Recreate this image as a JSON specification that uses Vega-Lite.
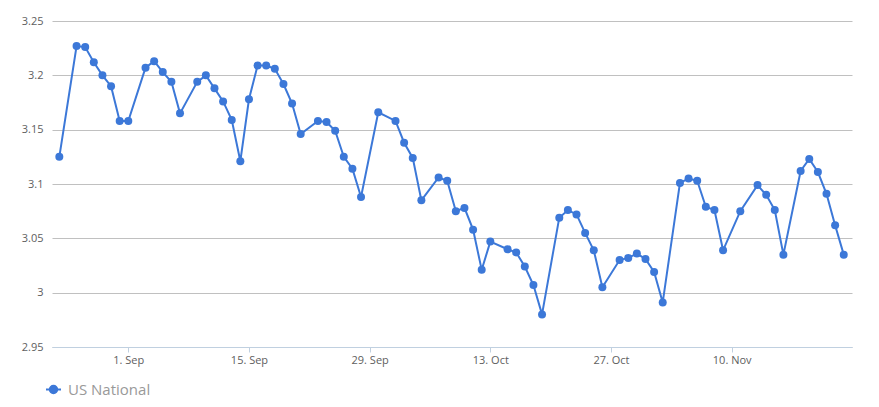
{
  "$schema": "https://vega.github.io/schema/vega-lite/v6.json",
  "width": 800,
  "height": 326,
  "autosize": "none",
  "padding": {"left": 52, "top": 21, "right": 27, "bottom": 60},
  "config": {
    "font": "Open Sans",
    "view": {"stroke": null},
    "axis": {"labelFont": "Open Sans", "labelFontSize": 11, "labelColor": "#606060"}
  },
  "data": {
    "values": [
      {"date": "2014-08-24T00:00:00", "price": 3.125, "series": "US National"},
      {"date": "2014-08-26T00:00:00", "price": 3.227, "series": "US National"},
      {"date": "2014-08-27T00:00:00", "price": 3.226, "series": "US National"},
      {"date": "2014-08-28T00:00:00", "price": 3.212, "series": "US National"},
      {"date": "2014-08-29T00:00:00", "price": 3.200, "series": "US National"},
      {"date": "2014-08-30T00:00:00", "price": 3.190, "series": "US National"},
      {"date": "2014-08-31T00:00:00", "price": 3.158, "series": "US National"},
      {"date": "2014-09-01T00:00:00", "price": 3.158, "series": "US National"},
      {"date": "2014-09-03T00:00:00", "price": 3.207, "series": "US National"},
      {"date": "2014-09-04T00:00:00", "price": 3.213, "series": "US National"},
      {"date": "2014-09-05T00:00:00", "price": 3.203, "series": "US National"},
      {"date": "2014-09-06T00:00:00", "price": 3.194, "series": "US National"},
      {"date": "2014-09-07T00:00:00", "price": 3.165, "series": "US National"},
      {"date": "2014-09-09T00:00:00", "price": 3.194, "series": "US National"},
      {"date": "2014-09-10T00:00:00", "price": 3.200, "series": "US National"},
      {"date": "2014-09-11T00:00:00", "price": 3.188, "series": "US National"},
      {"date": "2014-09-12T00:00:00", "price": 3.176, "series": "US National"},
      {"date": "2014-09-13T00:00:00", "price": 3.159, "series": "US National"},
      {"date": "2014-09-14T00:00:00", "price": 3.121, "series": "US National"},
      {"date": "2014-09-15T00:00:00", "price": 3.178, "series": "US National"},
      {"date": "2014-09-16T00:00:00", "price": 3.209, "series": "US National"},
      {"date": "2014-09-17T00:00:00", "price": 3.209, "series": "US National"},
      {"date": "2014-09-18T00:00:00", "price": 3.206, "series": "US National"},
      {"date": "2014-09-19T00:00:00", "price": 3.192, "series": "US National"},
      {"date": "2014-09-20T00:00:00", "price": 3.174, "series": "US National"},
      {"date": "2014-09-21T00:00:00", "price": 3.146, "series": "US National"},
      {"date": "2014-09-23T00:00:00", "price": 3.158, "series": "US National"},
      {"date": "2014-09-24T00:00:00", "price": 3.157, "series": "US National"},
      {"date": "2014-09-25T00:00:00", "price": 3.149, "series": "US National"},
      {"date": "2014-09-26T00:00:00", "price": 3.125, "series": "US National"},
      {"date": "2014-09-27T00:00:00", "price": 3.114, "series": "US National"},
      {"date": "2014-09-28T00:00:00", "price": 3.088, "series": "US National"},
      {"date": "2014-09-30T00:00:00", "price": 3.166, "series": "US National"},
      {"date": "2014-10-02T00:00:00", "price": 3.158, "series": "US National"},
      {"date": "2014-10-03T00:00:00", "price": 3.138, "series": "US National"},
      {"date": "2014-10-04T00:00:00", "price": 3.124, "series": "US National"},
      {"date": "2014-10-05T00:00:00", "price": 3.085, "series": "US National"},
      {"date": "2014-10-07T00:00:00", "price": 3.106, "series": "US National"},
      {"date": "2014-10-08T00:00:00", "price": 3.103, "series": "US National"},
      {"date": "2014-10-09T00:00:00", "price": 3.075, "series": "US National"},
      {"date": "2014-10-10T00:00:00", "price": 3.078, "series": "US National"},
      {"date": "2014-10-11T00:00:00", "price": 3.058, "series": "US National"},
      {"date": "2014-10-12T00:00:00", "price": 3.021, "series": "US National"},
      {"date": "2014-10-13T00:00:00", "price": 3.047, "series": "US National"},
      {"date": "2014-10-15T00:00:00", "price": 3.040, "series": "US National"},
      {"date": "2014-10-16T00:00:00", "price": 3.037, "series": "US National"},
      {"date": "2014-10-17T00:00:00", "price": 3.024, "series": "US National"},
      {"date": "2014-10-18T00:00:00", "price": 3.007, "series": "US National"},
      {"date": "2014-10-19T00:00:00", "price": 2.980, "series": "US National"},
      {"date": "2014-10-21T00:00:00", "price": 3.069, "series": "US National"},
      {"date": "2014-10-22T00:00:00", "price": 3.076, "series": "US National"},
      {"date": "2014-10-23T00:00:00", "price": 3.072, "series": "US National"},
      {"date": "2014-10-24T00:00:00", "price": 3.055, "series": "US National"},
      {"date": "2014-10-25T00:00:00", "price": 3.039, "series": "US National"},
      {"date": "2014-10-26T00:00:00", "price": 3.005, "series": "US National"},
      {"date": "2014-10-28T00:00:00", "price": 3.030, "series": "US National"},
      {"date": "2014-10-29T00:00:00", "price": 3.032, "series": "US National"},
      {"date": "2014-10-30T00:00:00", "price": 3.036, "series": "US National"},
      {"date": "2014-10-31T00:00:00", "price": 3.031, "series": "US National"},
      {"date": "2014-11-01T00:00:00", "price": 3.019, "series": "US National"},
      {"date": "2014-11-02T00:00:00", "price": 2.991, "series": "US National"},
      {"date": "2014-11-04T00:00:00", "price": 3.101, "series": "US National"},
      {"date": "2014-11-05T00:00:00", "price": 3.105, "series": "US National"},
      {"date": "2014-11-06T00:00:00", "price": 3.103, "series": "US National"},
      {"date": "2014-11-07T00:00:00", "price": 3.079, "series": "US National"},
      {"date": "2014-11-08T00:00:00", "price": 3.076, "series": "US National"},
      {"date": "2014-11-09T00:00:00", "price": 3.039, "series": "US National"},
      {"date": "2014-11-11T00:00:00", "price": 3.075, "series": "US National"},
      {"date": "2014-11-13T00:00:00", "price": 3.099, "series": "US National"},
      {"date": "2014-11-14T00:00:00", "price": 3.090, "series": "US National"},
      {"date": "2014-11-15T00:00:00", "price": 3.076, "series": "US National"},
      {"date": "2014-11-16T00:00:00", "price": 3.035, "series": "US National"},
      {"date": "2014-11-18T00:00:00", "price": 3.112, "series": "US National"},
      {"date": "2014-11-19T00:00:00", "price": 3.123, "series": "US National"},
      {"date": "2014-11-20T00:00:00", "price": 3.111, "series": "US National"},
      {"date": "2014-11-21T00:00:00", "price": 3.091, "series": "US National"},
      {"date": "2014-11-22T00:00:00", "price": 3.062, "series": "US National"},
      {"date": "2014-11-23T00:00:00", "price": 3.035, "series": "US National"}
    ]
  },
  "mark": {
    "type": "line",
    "strokeWidth": 2,
    "point": {"filled": true, "size": 64}
  },
  "encoding": {
    "x": {
      "field": "date",
      "type": "temporal",
      "scale": {
        "domain": [
          {"year": 2014, "month": 8, "date": 23, "hours": 3, "minutes": 36},
          {"year": 2014, "month": 11, "date": 23, "hours": 23, "minutes": 0}
        ]
      },
      "axis": {
        "title": null,
        "grid": false,
        "values": [
          {"year": 2014, "month": 9, "date": 1},
          {"year": 2014, "month": 9, "date": 15},
          {"year": 2014, "month": 9, "date": 29},
          {"year": 2014, "month": 10, "date": 13},
          {"year": 2014, "month": 10, "date": 27},
          {"year": 2014, "month": 11, "date": 10}
        ],
        "format": "%-d. %b",
        "domainColor": "#C0D0E0",
        "tickColor": "#C0D0E0",
        "tickSize": 5,
        "labelPadding": 2,
        "labelFlush": false
      }
    },
    "y": {
      "field": "price",
      "type": "quantitative",
      "scale": {"domain": [2.95, 3.25], "nice": false, "zero": false},
      "axis": {
        "title": null,
        "values": [2.95, 3, 3.05, 3.1, 3.15, 3.2, 3.25],
        "format": ".2~f",
        "grid": true,
        "gridColor": "#C0C0C0",
        "domain": false,
        "ticks": false,
        "labelPadding": 9
      }
    },
    "color": {
      "field": "series",
      "type": "nominal",
      "scale": {"range": ["#3c78d8"]},
      "legend": {
        "title": null,
        "orient": "none",
        "legendX": -7,
        "legendY": 360,
        "padding": 0,
        "symbolType": "M-1,0H1M-0.5,0A0.5,0.5,0,1,1,0.5,0A0.5,0.5,0,1,1,-0.5,0Z",
        "symbolSize": 225,
        "symbolStrokeWidth": 2,
        "symbolFillColor": "#3c78d8",
        "symbolStrokeColor": "#3c78d8",
        "labelFontSize": 15,
        "labelColor": "#999999",
        "labelFont": "Open Sans",
        "labelOffset": 6
      }
    }
  }
}
